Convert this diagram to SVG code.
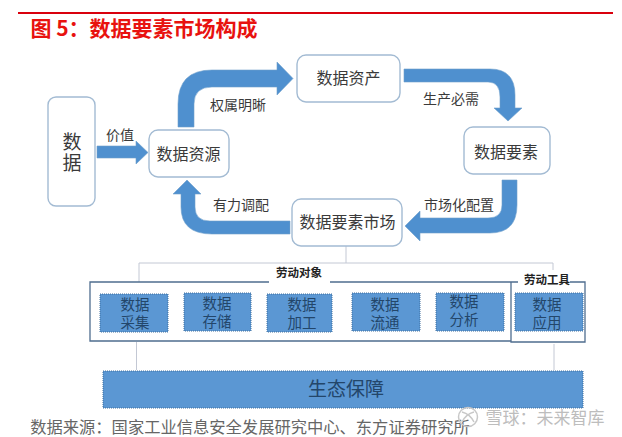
<svg xmlns="http://www.w3.org/2000/svg" width="622" height="437" viewBox="0 0 622 437">
<style>
text{font-family:"Noto Sans CJK SC","Liberation Sans",sans-serif;fill:#3a3a3a;text-anchor:middle}
.n{fill:#fff;stroke:#a3bbd3;stroke-width:1.4}
.l{font-size:14px}
.t{font-size:16px}
.b{fill:#5b97d3;stroke:#3f6f9e;stroke-width:1;stroke-dasharray:1 1}
.bt{font-size:14.500px;fill:#23466a}
.a{fill:#4f90cf;stroke:#6f9fcb;stroke-width:.6}
.g{fill:none;stroke:#c3c8d4;stroke-width:1}
.f{fill:none;stroke:#4f6d8f;stroke-width:1.3}
.h{font-size:11.500px;font-weight:700;fill:#222}
</style>
<rect width="622" height="437" fill="#fff"/>
<rect x="18" y="12" width="595" height="2" fill="#d9000d"/>
<text x="144" y="36" style="font-size:21px;font-weight:700;fill:#e8120f">图 5：数据要素市场构成</text>

<g id="connectors">
<path class="a" d="M97 146H136V141L148 152.500L136 164V158H97Z"/>
<path class="a" d="M178 127V104Q178 70 212 70H277V62L293 78.500L277 95V87H212Q194 87 194 104V127Z"/>
<path class="a" d="M404 69H490Q515 69 515 95V108H522L508 121L494 108H500V97Q500 82 488 82H404Z"/>
<path class="a" d="M502 180H517V205Q517 233 490 233H420V241L405 226L420 211V218H488Q502 218 502 205Z"/>
<path class="a" d="M290 221V234H212Q181 234 181 207V194H173L187 180L201 194H195V207Q195 221 210 221Z"/>
<path class="g" d="M346 246V263M139 282V263H553V270M136.500 342V370M554 344V370"/>
<path class="f" d="M269 282H90V341H511M330 282H511V342H585V282H570M511 282H518"/>
</g>

<g id="node-data"><rect class="n" x="48" y="97" width="47" height="109" rx="8"/><text x="72" y="149" style="font-size:19px">数<tspan x="72" dy="21">据</tspan></text></g>
<g id="node-resource"><rect class="n" x="149" y="130" width="80" height="47" rx="9"/><text class="t" x="188.500" y="160">数据资源</text></g>
<g id="node-asset"><rect class="n" x="297" y="55" width="103" height="47" rx="9"/><text class="t" x="348.500" y="84">数据资产</text></g>
<g id="node-element"><rect class="n" x="464" y="127" width="86" height="47" rx="9"/><text class="t" x="506" y="158">数据要素</text></g>
<g id="node-market"><rect class="n" x="292" y="199" width="110" height="47" rx="9"/><text class="t" x="347.500" y="228">数据要素市场</text></g>

<g id="labels">
<text class="l" x="120" y="140">价值</text>
<text class="l" x="238" y="110">权属明晰</text>
<text class="l" x="451" y="104">生产必需</text>
<text class="l" x="241" y="210">有力调配</text>
<text class="l" x="459" y="210">市场化配置</text>
<text class="h" x="299" y="277">劳动对象</text>
<text class="h" x="547" y="284">劳动工具</text>
</g>

<g id="node-collect"><rect class="b" x="100" y="294" width="68" height="38"/><text class="bt" x="135" y="310">数据<tspan x="135" dy="18">采集</tspan></text></g>
<g id="node-store"><rect class="b" x="184" y="293" width="67" height="38"/><text class="bt" x="217" y="309">数据<tspan x="217" dy="18">存储</tspan></text></g>
<g id="node-process"><rect class="b" x="267" y="294" width="65" height="38"/><text class="bt" x="302" y="310">数据<tspan x="302" dy="18">加工</tspan></text></g>
<g id="node-flow"><rect class="b" x="352" y="293" width="68" height="38"/><text class="bt" x="385" y="310">数据<tspan x="385" dy="18">流通</tspan></text></g>
<g id="node-analyse"><rect class="b" x="436" y="293" width="68" height="38"/><text class="bt" x="464" y="307">数据<tspan x="464" dy="18">分析</tspan></text></g>
<g id="node-apply"><rect class="b" x="515" y="293" width="68" height="38"/><text class="bt" x="547" y="310">数据<tspan x="547" dy="18">应用</tspan></text></g>
<g id="node-eco"><rect class="b" x="103" y="371" width="480" height="37"/><text x="346" y="396" style="font-size:19px;fill:#23466a">生态保障</text></g>

<text x="250" y="433" style="font-size:16.300px;fill:#666">数据来源：国家工业信息安全发展研究中心、东方证券研究所</text>
<g id="watermark">
<circle cx="468" cy="417" r="9.500" fill="none" stroke="#c8c8c8" stroke-width="1.500"/>
<path d="M462 412Q470 414 474 422M474 412Q466 414 462 422" fill="none" stroke="#c8c8c8" stroke-width="1.500"/>
<text x="545" y="424" style="font-size:17px;fill:#bdbdbd">雪球：未来智库</text>
</g>
</svg>
